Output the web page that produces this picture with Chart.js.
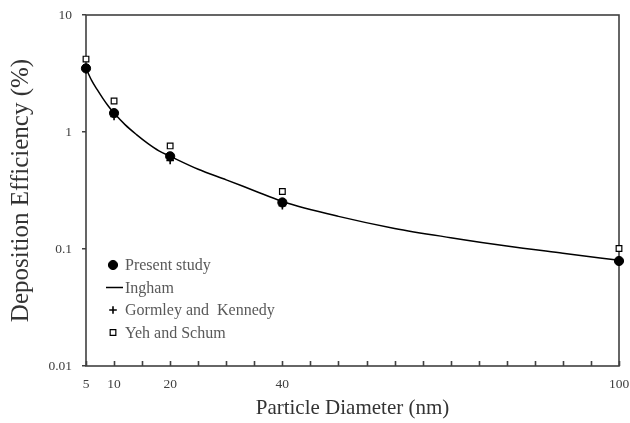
<!DOCTYPE html>
<html>
<head>
<meta charset="utf-8">
<script src="https://cdn.jsdelivr.net/npm/chart.js@4.4.1/dist/chart.umd.min.js"></script>
<style>
  html, body { margin: 0; padding: 0; background: #fff; }
  #wrap { width: 630px; height: 423px; position: relative; }
</style>
</head>
<body>
<div id="wrap"><canvas id="chart"></canvas></div>
<script>
// ── Dados ──────────────────────────────────────────────────────
const diametros = [5, 10, 20, 40, 100];
const presentStudy = [3.5, 1.45, 0.62, 0.25, 0.079];
const yehSchum = [4.2, 1.84, 0.76, 0.31, 0.101];
const gormleyX = [5, 10, 20, 40];
const gormley = [3.4, 1.36, 0.57, 0.235];
const inghamX = [5, 6, 7, 8, 9, 10, 12, 14, 16, 18, 20, 25, 30, 35, 40, 50, 60, 70, 80, 90, 100];
const ingham = [3.5, 2.76, 2.3, 1.94, 1.66, 1.45, 1.15, 0.95, 0.8, 0.69, 0.62, 0.48, 0.39, 0.315, 0.255, 0.19, 0.15, 0.125, 0.106, 0.092, 0.08];

const xTickLabels = [5, 10, 20, 40, 100];
const xMinorTicks = [5, 10, 15, 20, 25, 30, 35, 40, 45, 50, 55, 60, 65, 70, 75, 80, 85, 90, 95, 100];
const yTicks = [0.01, 0.1, 1, 10];
const yTickLabels = ['0.01', '0.1', '1', '10'];

const pts = (xs, ys) => xs.map((x, i) => ({ x, y: ys[i] }));
const SERIF = '"Liberation Serif", "Times New Roman", serif';
const AXIS = '#404040';

// ── Moldura + ticks internos do eixo x ─────────────────────────
const moldura = {
  id: 'moldura',
  beforeDatasetsDraw(chart) {
    const { ctx, chartArea: a, scales: { x } } = chart;
    ctx.save();
    ctx.strokeStyle = AXIS;
    ctx.lineWidth = 1.6;
    ctx.strokeRect(a.left, a.top, a.right - a.left, a.bottom - a.top);
    ctx.beginPath();
    x.ticks.forEach(t => {
      const px = Math.round(x.getPixelForValue(t.value)) + 0.5;
      ctx.moveTo(px, a.bottom);
      ctx.lineTo(px, a.bottom - 5);
    });
    ctx.stroke();
    ctx.restore();
  }
};

// ── Legenda dentro da área do gráfico ──────────────────────────
function drawMarker(ctx, ds, x, y) {
  ctx.save();
  ctx.fillStyle = ds.backgroundColor;
  ctx.strokeStyle = ds.borderColor;
  ctx.lineWidth = ds.borderWidth;
  Chart.helpers.drawPoint(ctx, { pointStyle: ds.pointStyle, radius: ds.pointRadius, rotation: 0, borderWidth: ds.borderWidth }, x, y);
  ctx.restore();
}

const legenda = {
  id: 'legenda',
  afterDraw(chart) {
    const { ctx, chartArea: a } = chart;
    const x0 = a.left + 27, y0 = a.bottom - 101, dy = 22.5;
    chart.data.datasets.forEach((ds, i) => {
      const y = y0 + i * dy;
      if (ds.showLine) {
        ctx.save();
        ctx.strokeStyle = '#000';
        ctx.lineWidth = 1.5;
        ctx.beginPath();
        ctx.moveTo(x0 - 7, y);
        ctx.lineTo(x0 + 10, y);
        ctx.stroke();
        ctx.restore();
      } else {
        drawMarker(ctx, ds, x0, y);
      }
      ctx.save();
      ctx.font = '16px ' + SERIF;
      ctx.textBaseline = 'middle';
      ctx.fillStyle = '#595959';
      ctx.fillText(ds.label, x0 + 12, y + 1);
      ctx.restore();
    });
  }
};

new Chart(document.getElementById('chart'), {
  type: 'scatter',
  data: {
    datasets: [
      { label: 'Present study', data: pts(diametros, presentStudy), order: 0, clip: false,
        pointStyle: 'circle', pointRadius: 4.6, pointHoverRadius: 4.6,
        backgroundColor: '#000', borderColor: '#000', borderWidth: 1 },
      { label: 'Ingham', data: pts(inghamX, ingham), order: 3, clip: false, showLine: true,
        pointRadius: 0, borderColor: '#000', borderWidth: 1.5, cubicInterpolationMode: 'monotone',
        backgroundColor: '#000' },
      { label: 'Gormley and  Kennedy', data: pts(gormleyX, gormley), order: 2, clip: false,
        pointStyle: 'cross', pointRadius: 3.8, pointHoverRadius: 3.8,
        backgroundColor: '#000', borderColor: '#000', borderWidth: 1.6 },
      { label: 'Yeh and Schum', data: pts(diametros, yehSchum), order: 1, clip: false,
        pointStyle: 'rect', pointRadius: 4, pointHoverRadius: 4,
        backgroundColor: '#fff', borderColor: '#000', borderWidth: 1.2 }
    ]
  },
  options: {
    responsive: true, maintainAspectRatio: false, animation: false,
    layout: { padding: { left: 0, right: 11, top: 15, bottom: 0 } },
    plugins: { legend: { display: false }, tooltip: { enabled: false } },
    scales: {
      x: {
        type: 'linear', min: 5, max: 100,
        afterBuildTicks: s => { s.ticks = xMinorTicks.map(v => ({ value: v })); },
        afterFit: s => { s.height = 57; s.paddingLeft = 0; s.paddingRight = 0; },
        grid: { display: false, drawTicks: false },
        border: { display: false },
        ticks: {
          autoSkip: false, maxRotation: 0, padding: 10, color: AXIS,
          font: { family: SERIF, size: 13.5 },
          callback: v => xTickLabels.includes(v) ? String(v) : ''
        },
        title: { display: true, text: 'Particle Diameter (nm)', color: '#333',
          font: { family: SERIF, size: 21 }, padding: { top: 0, bottom: 2 } }
      },
      y: {
        type: 'logarithmic', min: 0.01, max: 10,
        afterBuildTicks: s => { s.ticks = yTicks.map(v => ({ value: v })); },
        afterFit: s => { s.width = 86; s.paddingTop = 0; s.paddingBottom = 0; },
        grid: { drawOnChartArea: false, drawTicks: true, tickLength: 4, color: AXIS, lineWidth: 1.5 },
        border: { display: false },
        ticks: {
          autoSkip: false, padding: 10, color: AXIS,
          font: { family: SERIF, size: 13.5 },
          callback: v => yTickLabels[yTicks.indexOf(v)] ?? ''
        },
        title: { display: true, text: 'Deposition Efficiency (%)', color: '#333',
          font: { family: SERIF, size: 25 }, padding: { top: 6, bottom: 0 } }
      }
    }
  },
  plugins: [moldura, legenda]
});
</script>
</body>
</html>
